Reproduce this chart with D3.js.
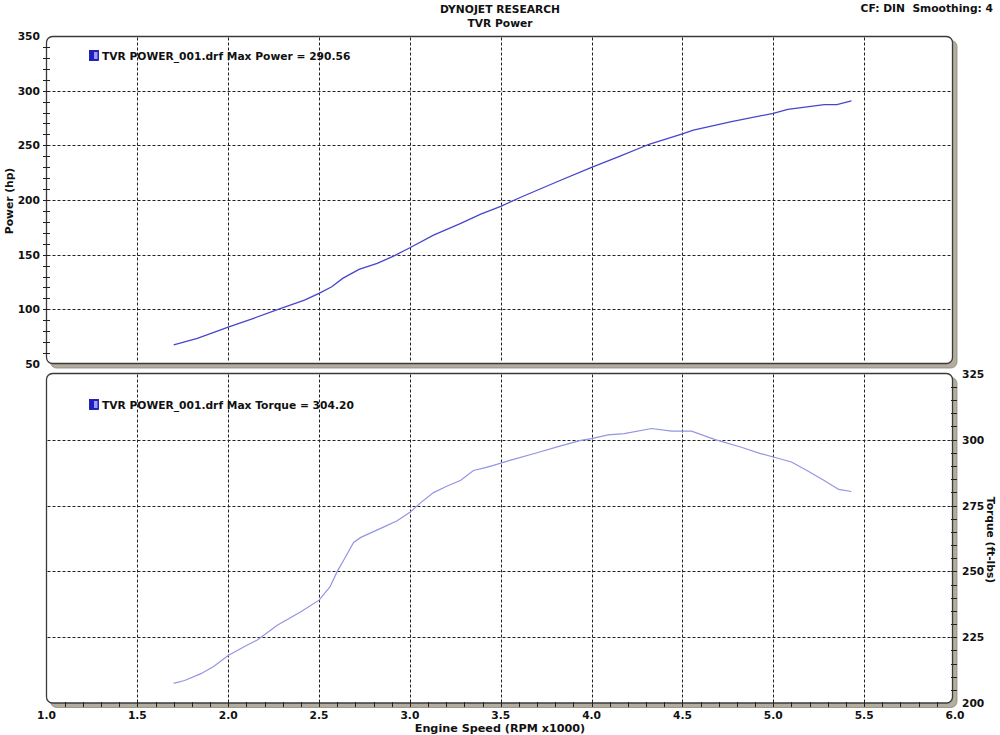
<!DOCTYPE html>
<html><head><meta charset="utf-8">
<script src="https://cdn.jsdelivr.net/npm/d3@7"></script>
<style>
html,body{margin:0;padding:0;background:#fff;}
svg{display:block;font-family:"DejaVu Sans",Verdana,sans-serif;font-weight:bold;}
text{white-space:pre;}
</style></head>
<body>
<svg id="c" width="1000" height="735"></svg>
<script>
// ---- data ----
const rpmPower = [1.70,1.83,2.00,2.14,2.29,2.42,2.50,2.57,2.63,2.72,2.82,2.91,3.00,3.13,3.28,3.39,3.50,3.61,3.81,4.00,4.16,4.32,4.50,4.56,4.77,5.00,5.08,5.28,5.35,5.43];
const powerHp = [67.6,73.5,83.8,91.8,100.9,108.5,114.6,120.7,128.3,136.6,142.0,148.7,156.3,167.9,178.6,187.0,194.2,202.5,216.7,229.9,240.3,251.2,260.4,264.0,271.6,279.3,282.9,287.2,287.2,290.56];
const rpmTorque = [1.70,1.76,1.85,1.92,2.00,2.09,2.16,2.27,2.40,2.50,2.56,2.60,2.64,2.69,2.73,2.80,2.86,2.93,3.00,3.06,3.13,3.20,3.28,3.35,3.41,3.46,3.55,3.70,3.83,3.94,4.00,4.09,4.18,4.33,4.44,4.55,4.68,4.82,4.93,5.00,5.10,5.19,5.28,5.36,5.43];
const torqueFtLbs = [207.5,208.6,211.2,213.9,218.1,221.5,224.0,229.6,234.7,239.1,244.1,250.0,254.8,261.0,262.9,265.1,267.0,269.2,272.4,276.1,279.9,282.2,284.6,288.3,289.3,290.2,292.1,295.0,297.6,299.7,300.4,301.8,302.3,304.2,303.2,303.2,300.0,297.2,294.7,293.4,291.5,288.1,284.5,281.1,280.3];
const xTicks = [1.0,1.5,2.0,2.5,3.0,3.5,4.0,4.5,5.0,5.5,6.0];
const powerTicks = [50,100,150,200,250,300,350];
const torqueTicks = [200,225,250,275,300,325];
const titleLines = ["DYNOJET RESEARCH","TVR Power"];
const infoText = "CF: DIN  Smoothing: 4";
const legendPower = "TVR POWER_001.drf Max Power = 290.56";
const legendTorque = "TVR POWER_001.drf Max Torque = 304.20";

// ---- layout ----
const svg = d3.select("#c");
const FS = 10.7;
const X0 = 46.5, X1 = 952.5;
const x = d3.scaleLinear().domain([1,6]).range([46.5,955]);
const yP = d3.scaleLinear().domain([50,350]).range([364,36]);
const yT = d3.scaleLinear().domain([200,325]).range([703.2,373.7]);
const shadow = "#b3ad9f", border = "#3a3a3a";

function panel(top, bottom){
  const g = svg.append("g");
  g.append("rect").attr("x",X0+4).attr("y",top+4).attr("width",X1-X0+0.5).attr("height",bottom-top+0.5)
    .attr("rx",6).attr("fill",shadow).attr("stroke","#8e8879").attr("stroke-width",0.8);
  g.append("rect").attr("x",X0).attr("y",top).attr("width",X1-X0).attr("height",bottom-top)
    .attr("rx",6).attr("fill","#fff").attr("stroke",border).attr("stroke-width",1.3);
  return g;
}
const topP = {t:36.5, b:363.5}, botP = {t:373.5, b:703};
panel(topP.t, topP.b);
panel(botP.t, botP.b);

function grid(top,bottom,ys,yscale){
  const g = svg.append("g").attr("stroke","#222").attr("stroke-width",1).attr("stroke-dasharray","3,2");
  g.selectAll("line.v").data(xTicks.filter(d=>d>1&&d<6)).join("line")
    .attr("x1",d=>Math.round(x(d))+0.5).attr("x2",d=>Math.round(x(d))+0.5)
    .attr("y1",top+1).attr("y2",bottom-1);
  g.selectAll("line.h").data(ys).join("line")
    .attr("x1",X0+1).attr("x2",X1-1)
    .attr("y1",d=>Math.round(yscale(d))+0.5).attr("y2",d=>Math.round(yscale(d))+0.5);
}
grid(topP.t, topP.b, powerTicks.filter(d=>d>50&&d<350), yP);
grid(botP.t, botP.b, torqueTicks.filter(d=>d>200&&d<325), yT);

// left axis ticks (power) every 10
const pMinor = d3.range(60,350,10);
svg.append("g").selectAll("line").data(pMinor).join("line")
  .attr("x1",43).attr("x2",50).attr("y1",d=>Math.round(yP(d))+0.5).attr("y2",d=>Math.round(yP(d))+0.5)
  .attr("stroke","#222").attr("stroke-width",1);
// right axis ticks (torque) every 5
const tMinor = d3.range(205,325,5);
svg.append("g").selectAll("line").data(tMinor).join("line")
  .attr("x1",951).attr("x2",957).attr("y1",d=>Math.round(yT(d))+0.5).attr("y2",d=>Math.round(yT(d))+0.5)
  .attr("stroke","#222").attr("stroke-width",1);
// bottom x ticks every 0.1
const xMinor = d3.range(11,60).map(d=>d/10);
svg.append("g").selectAll("line").data(xMinor).join("line")
  .attr("x1",d=>Math.round(x(d))+0.5).attr("x2",d=>Math.round(x(d))+0.5).attr("y1",702).attr("y2",707)
  .attr("stroke","#222").attr("stroke-width",1);

// tick labels
svg.append("g").attr("font-size",FS).attr("text-anchor","end").attr("fill","#111")
  .selectAll("text").data(powerTicks).join("text")
  .attr("x",40).attr("y",d=>yP(d)+4).text(d=>d);
svg.append("g").attr("font-size",FS).attr("text-anchor","start").attr("fill","#111")
  .selectAll("text").data(torqueTicks).join("text")
  .attr("x",962).attr("y",d=>yT(d)+4).text(d=>d);
svg.append("g").attr("font-size",FS).attr("text-anchor","middle").attr("fill","#111")
  .selectAll("text").data(xTicks).join("text")
  .attr("x",d=>x(d)).attr("y",719).text(d=>d.toFixed(1));

// titles
svg.append("g").attr("font-size",FS).attr("text-anchor","middle").attr("fill","#111")
  .selectAll("text").data(titleLines).join("text")
  .attr("x",500).attr("y",(d,i)=>13+i*14).text(d=>d);
svg.append("text").attr("x",993).attr("y",12).attr("text-anchor","end").attr("font-size",FS).attr("fill","#111").text(infoText);
svg.append("text").attr("x",500).attr("y",732).attr("text-anchor","middle").attr("font-size",11.2).attr("fill","#111").text("Engine Speed (RPM x1000)");
svg.append("text").attr("transform","translate(13,201) rotate(-90)").attr("text-anchor","middle").attr("font-size",FS).attr("fill","#111").text("Power (hp)");
svg.append("text").attr("transform","translate(987,540) rotate(90)").attr("text-anchor","middle").attr("font-size",FS).attr("fill","#111").text("Torque (ft-lbs)");

// legends
function legend(y, txt){
  svg.append("rect").attr("x",89.5).attr("y",y-9.5).attr("width",9).attr("height",10).attr("fill","#1c1cc8").attr("stroke","#101080").attr("stroke-width",0.8);
  svg.append("rect").attr("x",94).attr("y",y-8).attr("width",3.5).attr("height",7).attr("fill","#9a9aff");
  svg.append("text").attr("x",102).attr("y",y).attr("font-size",FS).attr("fill","#111").text(txt);
}
legend(60, legendPower);
legend(409, legendTorque);

// curves
const lineP = d3.line().x((d,i)=>x(rpmPower[i])).y(d=>yP(d));
svg.append("path").datum(powerHp).attr("d",lineP).attr("fill","none").attr("stroke","#4646cc").attr("stroke-width",1.3);
const lineT = d3.line().x((d,i)=>x(rpmTorque[i])).y(d=>yT(d));
svg.append("path").datum(torqueFtLbs).attr("d",lineT).attr("fill","none").attr("stroke","#9494e4").attr("stroke-width",1.2);
</script>
</body></html>
